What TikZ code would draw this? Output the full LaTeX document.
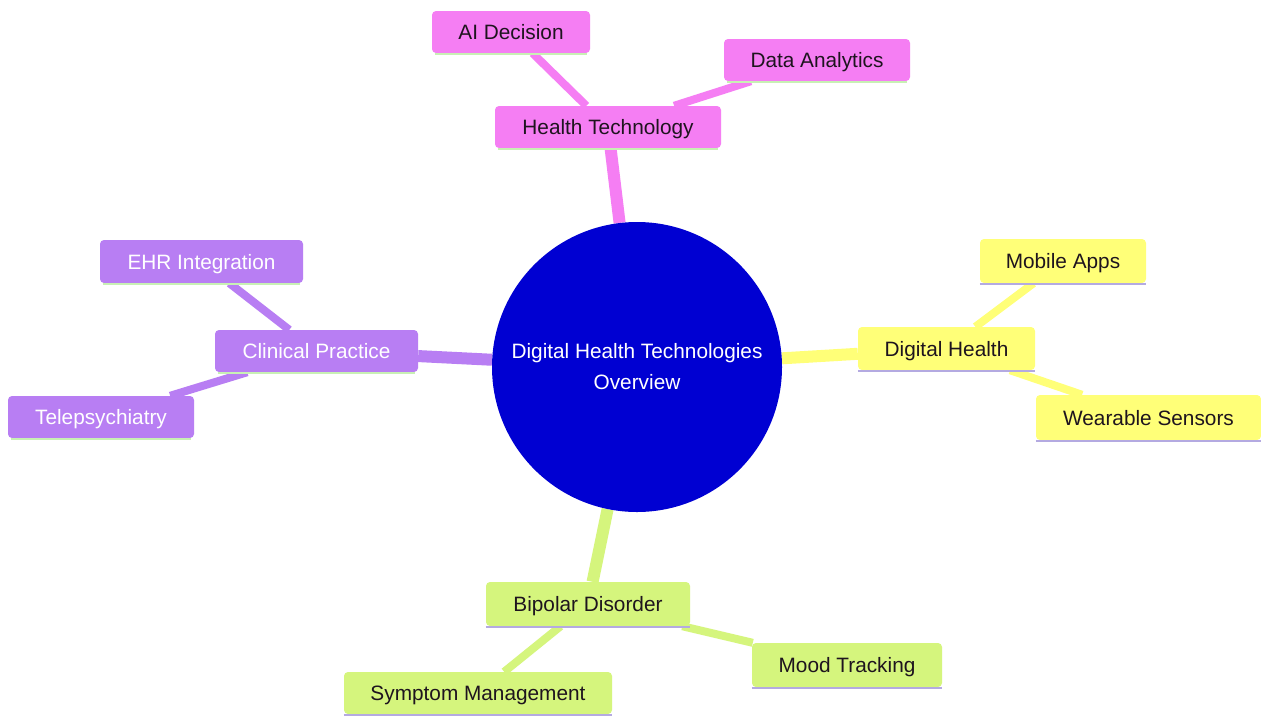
\documentclass[tikz,border=0pt]{standalone}
\usepackage{fontspec}
\setmainfont{Liberation Sans}
\usetikzlibrary{backgrounds}
\definecolor{pinkc}{RGB}{245,126,243}
\definecolor{purplec}{RGB}{184,126,243}
\definecolor{yellowc}{RGB}{255,255,120}
\definecolor{limec}{RGB}{213,245,125}
\definecolor{rootc}{RGB}{0,0,210}
\definecolor{greenrule}{RGB}{200,240,180}
\definecolor{lavrule}{RGB}{180,170,225}
\definecolor{darktext}{RGB}{30,20,30}
\begin{document}
\begin{tikzpicture}[x=1pt,y=-1pt,
  box/.style={rectangle, rounded corners=4pt, inner sep=0pt, draw=none,
    font=\fontsize{20.8}{24}\selectfont, text=darktext, text height=17pt, text depth=2pt},
  pinkbox/.style={box, fill=pinkc},
  purplebox/.style={box, fill=purplec, text=white},
  yellowbox/.style={box, fill=yellowc},
  limebox/.style={box, fill=limec},
  rootnode/.style={circle, fill=rootc, minimum size=290pt, inner sep=0pt, text=white,
    font=\fontsize{20.8}{31}\selectfont, align=center},
  rootedge/.style={line width=12pt},
  subedge/.style={line width=8pt},
  greenline/.style={draw=greenrule, line width=2.5pt},
  lavline/.style={draw=lavrule, line width=2.5pt}
]
\useasboundingbox (0,0) rectangle (1261,716);

\node[rootnode] (root) at (637,367) {Digital Health Technologies\\Overview};

\node[pinkbox, minimum width=226pt, minimum height=42pt] (ht) at (608,127) {Health Technology};
\node[pinkbox, minimum width=158pt, minimum height=42pt] (ai) at (511,32) {AI Decision};
\node[pinkbox, minimum width=186pt, minimum height=42pt] (da) at (817,60) {Data Analytics};

\node[yellowbox, minimum width=177pt, minimum height=43pt] (dh) at (946.5,348.5) {Digital Health};
\node[yellowbox, minimum width=166pt, minimum height=44pt] (ma) at (1063,261) {Mobile Apps};
\node[yellowbox, minimum width=225pt, minimum height=45pt] (ws) at (1148.5,417.5) {Wearable Sensors};

\node[purplebox, minimum width=203pt, minimum height=42pt] (cp) at (316.5,351) {Clinical Practice};
\node[purplebox, minimum width=203pt, minimum height=43pt] (ehr) at (201.5,261.5) {EHR Integration};
\node[purplebox, minimum width=186pt, minimum height=42pt] (tp) at (101,417) {Telepsychiatry};

\node[limebox, minimum width=204pt, minimum height=44pt] (bd) at (588,604) {Bipolar Disorder};
\node[limebox, minimum width=190pt, minimum height=44pt] (mt) at (847,665) {Mood Tracking};
\node[limebox, minimum width=268pt, minimum height=42pt] (sm) at (478,693) {Symptom Management};

% bottom rules
\foreach \n in {ht,ai,da,cp,ehr,tp}
  \draw[greenline] ([xshift=3pt,yshift=-1pt]\n.south west) -- ([xshift=-3pt,yshift=-1pt]\n.south east);
\foreach \n in {dh,ma,ws,bd,mt,sm}
  \draw[lavline] ([xshift=0pt,yshift=-1pt]\n.south west) -- ([xshift=0pt,yshift=-1pt]\n.south east);

\begin{scope}[on background layer]
  \fill[white] (0,0) rectangle (1261,716);
  \draw[rootedge, pinkc] (root) -- (ht);
  \draw[subedge, pinkc] (ht) -- (ai);
  \draw[subedge, pinkc] (ht) -- (da);
  \draw[rootedge, yellowc] (root) -- (dh);
  \draw[subedge, yellowc] (dh) -- (ma);
  \draw[subedge, yellowc] (dh) -- (ws);
  \draw[rootedge, purplec] (root) -- (cp);
  \draw[subedge, purplec] (cp) -- (ehr);
  \draw[subedge, purplec] (cp) -- (tp);
  \draw[rootedge, limec] (root) -- (bd);
  \draw[subedge, limec] (bd) -- (mt);
  \draw[subedge, limec] (bd) -- (sm);
\end{scope}
\end{tikzpicture}
\end{document}
